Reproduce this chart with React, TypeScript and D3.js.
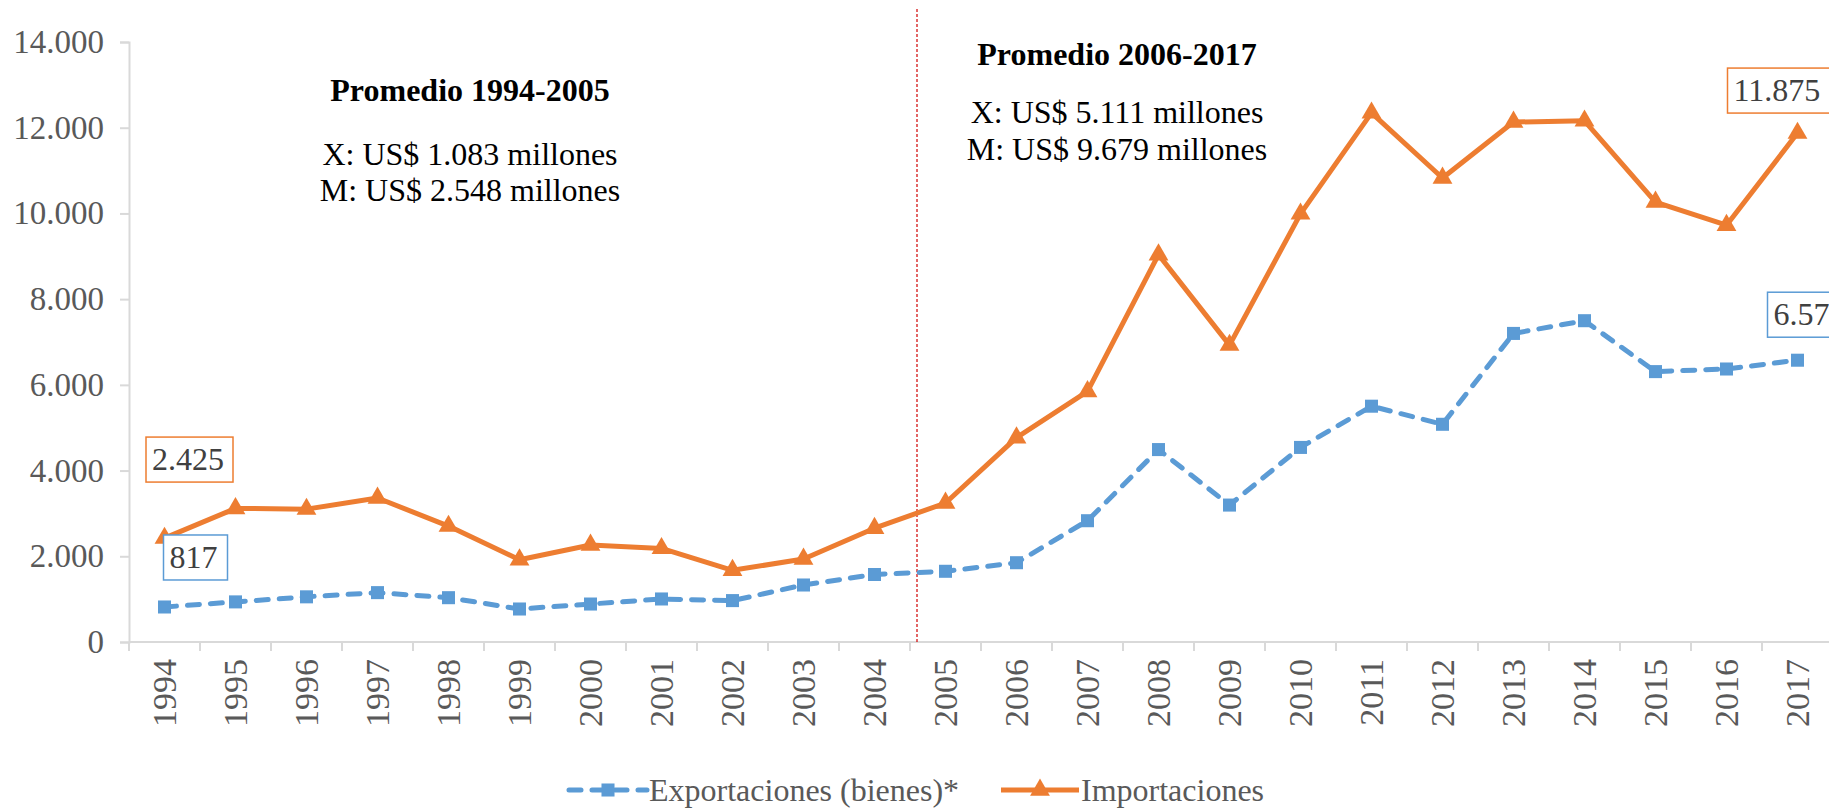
import React, { useEffect, useRef } from 'react'
import * as d3 from 'd3'

const years = ['1994','1995','1996','1997','1998','1999','2000','2001','2002','2003','2004','2005',
  '2006','2007','2008','2009','2010','2011','2012','2013','2014','2015','2016','2017']
const exportaciones = [817, 936, 1054, 1152, 1034, 770, 886, 1004, 966, 1330, 1575, 1650,
  1850, 2830, 4490, 3195, 4540, 5502, 5080, 7200, 7497, 6309, 6370, 6575]
const importaciones = [2425, 3117, 3100, 3360, 2705, 1918, 2263, 2184, 1673, 1937, 2655, 3243,
  4767, 5847, 9038, 6928, 9990, 12347, 10826, 12132, 12160, 10266, 9725, 11875]
const yTicks = [0, 2000, 4000, 6000, 8000, 10000, 12000, 14000]
const periodo1 = ['Promedio 1994-2005', 'X: US$ 1.083 millones', 'M: US$ 2.548 millones']
const periodo2 = ['Promedio 2006-2017', 'X: US$ 5.111 millones', 'M: US$ 9.679 millones']
const legendNames = ['Exportaciones (bienes)*', 'Importaciones']

const BLUE = '#5B9BD5'
const ORANGE = '#ED7D31'
const FONT = '"Liberation Serif", "Times New Roman", serif'

const fmt = (v: number) => d3.format(',')(v).replace(/,/g, '.')

export default function App() {
  const ref = useRef<SVGSVGElement>(null)

  useEffect(() => {
    const svg = d3.select(ref.current)
    svg.selectAll('*').remove()

    const x = d3.scaleBand().domain(years).range([129, 129 + 24 * 71])
    const y = d3.scaleLinear().domain([0, 14000]).range([642, 42])
    const cx = (d: string) => (x(d) as number) + x.bandwidth() / 2

    // axes
    const yAxis = svg.append('g').attr('transform', 'translate(129,0)')
      .call(d3.axisLeft(y).tickValues(yTicks).tickSize(9).tickPadding(16).tickFormat(d => fmt(+d)))
    yAxis.select('.domain').attr('stroke', '#d9d9d9').attr('stroke-width', 2)
    yAxis.selectAll('.tick line').attr('stroke', '#d9d9d9').attr('stroke-width', 2)
    yAxis.selectAll('.tick text').attr('fill', '#595959').style('font', `33px ${FONT}`)

    const xg = svg.append('g')
    xg.append('line').attr('x1', 129).attr('x2', 1829).attr('y1', y(0)).attr('y2', y(0))
      .attr('stroke', '#d9d9d9').attr('stroke-width', 2)
    xg.selectAll('line.tk').data(d3.range(25)).enter().append('line')
      .attr('class', 'tk')
      .attr('x1', i => 129 + i * x.step()).attr('x2', i => 129 + i * x.step())
      .attr('y1', y(0)).attr('y2', y(0) + 9)
      .attr('stroke', '#d9d9d9').attr('stroke-width', 2)
    xg.selectAll('text').data(years).enter().append('text')
      .attr('transform', d => `translate(${cx(d) + 11},${y(0) + 17}) rotate(-90)`)
      .attr('text-anchor', 'end')
      .attr('fill', '#595959')
      .style('font', `34px ${FONT}`)
      .text(d => d)

    // divider
    const divX = (x('2005') as number) + 7
    svg.append('line').attr('x1', divX).attr('x2', divX).attr('y1', 9).attr('y2', y(0))
      .attr('stroke', '#d00000').attr('stroke-width', 1.2).attr('stroke-dasharray', '3,2')

    // series
    const line = d3.line<number>().x((d, i) => cx(years[i])).y(d => y(d))
    svg.append('path').datum(importaciones).attr('d', line)
      .attr('fill', 'none').attr('stroke', ORANGE).attr('stroke-width', 5).attr('stroke-linejoin', 'round')
    svg.append('path').datum(exportaciones).attr('d', line)
      .attr('fill', 'none').attr('stroke', BLUE).attr('stroke-width', 5)
      .attr('stroke-dasharray', '12,11').attr('stroke-linecap', 'round')

    const tri = d3.symbol().type(d3.symbolTriangle).size(170)()
    const sq = d3.symbol().type(d3.symbolSquare).size(170)()
    svg.selectAll('path.m1').data(importaciones).enter().append('path')
      .attr('class', 'm1').attr('d', tri).attr('fill', ORANGE)
      .attr('transform', (d, i) => `translate(${cx(years[i])},${y(d)})`)
    svg.selectAll('path.m2').data(exportaciones).enter().append('path')
      .attr('class', 'm2').attr('d', sq).attr('fill', BLUE)
      .attr('transform', (d, i) => `translate(${cx(years[i])},${y(d)})`)

    // value labels
    const labels = [
      { v: importaciones[0], yr: years[0], dx: 25, dy: -79, w: 87, c: ORANGE },
      { v: exportaciones[0], yr: years[0], dx: 31, dy: -50, w: 64, c: BLUE },
      { v: importaciones[23], yr: years[23], dx: -17, dy: -43, w: 106, c: ORANGE },
      { v: exportaciones[23], yr: years[23], dx: 16, dy: -46, w: 92, c: BLUE },
    ]
    labels.forEach(l => {
      const px = cx(l.yr) + l.dx
      const py = y(l.v) + l.dy
      svg.append('rect').attr('x', px - l.w / 2).attr('y', py - 22).attr('width', l.w).attr('height', 45)
        .attr('fill', 'white').attr('stroke', l.c).attr('stroke-width', 1.5)
      svg.append('text').attr('x', px - l.w / 2 + 6).attr('y', py).attr('dy', '0.35em')
        .attr('text-anchor', 'start').attr('fill', '#404040')
        .style('font', `32px ${FONT}`).text(fmt(l.v))
    })

    // period notes
    const notes = (lines: string[], xc: number, ys: number[]) => {
      lines.forEach((t, i) => {
        svg.append('text').attr('x', xc).attr('y', ys[i]).attr('dy', '0.35em')
          .attr('text-anchor', 'middle').attr('fill', '#000')
          .style('font', `${i === 0 ? 'bold ' : ''}32px ${FONT}`).text(t)
      })
    }
    notes(periodo1, 470, [90, 154, 190])
    notes(periodo2, 1117, [54, 112, 149])

    // legend
    const lg = svg.append('g')
    const items = [
      { name: legendNames[0], c: BLUE, x0: 569, dash: '12,11', m: sq },
      { name: legendNames[1], c: ORANGE, x0: 1001, dash: null, m: tri },
    ]
    items.forEach(it => {
      lg.append('line').attr('x1', it.x0).attr('x2', it.x0 + 78).attr('y1', 790).attr('y2', 790)
        .attr('stroke', it.c).attr('stroke-width', 5)
        .attr('stroke-dasharray', it.dash).attr('stroke-linecap', it.dash ? 'round' : 'butt')
      lg.append('path').attr('d', it.m).attr('fill', it.c)
        .attr('transform', `translate(${it.x0 + 39},790)`)
      lg.append('text').attr('x', it.x0 + 80).attr('y', 790).attr('dy', '0.35em')
        .attr('fill', '#595959').style('font', `32px ${FONT}`).text(it.name)
    })
  }, [])

  return (
    <div style={{ position: 'fixed', left: 0, top: 0, width: 1829, height: 808, background: 'white' }}>
      <svg ref={ref} width={1829} height={808} style={{ display: 'block' }}></svg>
    </div>
  )
}
